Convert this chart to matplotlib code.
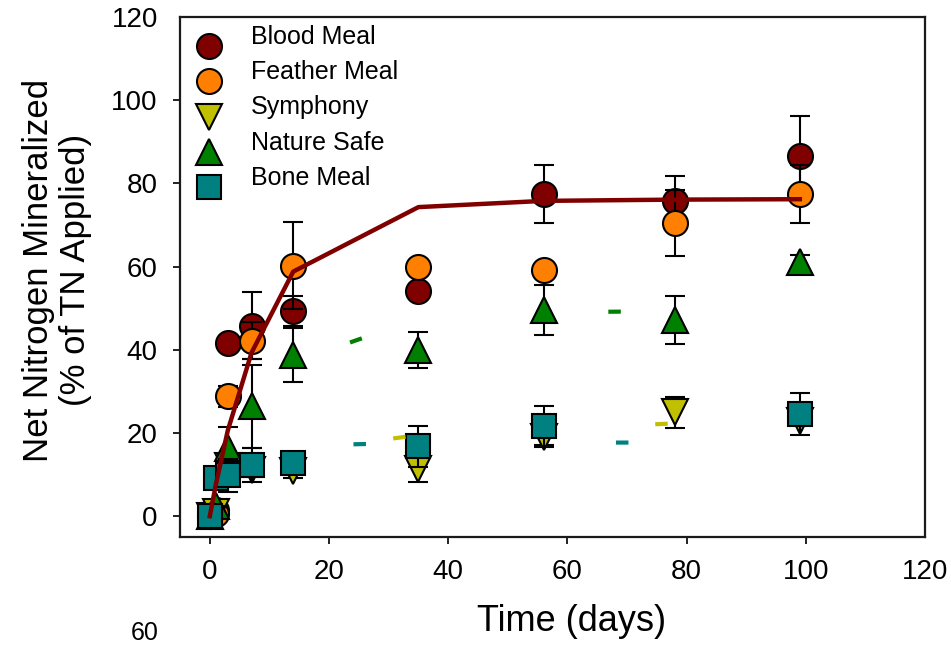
import numpy as np
import matplotlib
matplotlib.use("Agg")
import matplotlib.pyplot as plt
from matplotlib.legend_handler import HandlerLine2D

plt.rcParams["font.family"] = ["Liberation Sans", "DejaVu Sans"]

# sampling days
days = [0, 1, 3, 7, 14, 35, 56, 78, 99]

# net N mineralized (% of TN applied), mean and error
blood = [0, 1.5, 41.7, 45.8, 49.4, 54.2, 77.5, 75.8, 86.6]
blood_err = [0, 0, 0, 8, 3.6, 0, 7, 6, 9.6]
feather = [0, 0.5, 28.8, 42.2, 60.2, 60.0, 59.2, 70.5, 77.5]
feather_err = [0, 0, 2.5, 4.5, 10.5, 0, 0, 8, 7]
symphony = [0, 1, 12, 11, 10.8, 11.3, 19, 25, 23]
symphony_err = [0, 0, 2, 1.5, 1.5, 3, 2, 3.7, 1]
nature = [0, 2.5, 16.5, 26.4, 38.8, 40.0, 49.6, 47.2, 61.2]
nature_err = [0, 0, 5, 10, 6.5, 4.3, 6, 5.7, 1.5]
bone = [0, 9.2, 9.8, 12.3, 12.9, 16.8, 21.6, np.nan, 24.5]
bone_err = [0, 0, 4, 4, 1, 5, 5, np.nan, 5]

# fitted curves at the sampling days
blood_fit = [0, 7.5, 20.5, 39.3, 58.8, 74.3, 75.8, 76.1, 76.2]
symphony_fit = [0, 3, 8, 12.5, 15.5, 19.5, 21, 22.3, 23.3]
nature_fit = [0, 4.5, 14, 24.5, 37, 47.5, 49, 49.3, 49.4]
bone_fit = [0, 5, 10, 14.5, 17, 17.6, 17.7, 17.7, 17.7]

labels = ["Blood Meal", "Feather Meal", "Symphony", "Nature Safe", "Bone Meal"]
colors = ["#800000", "#ff8000", "#c0c000", "#008000", "#008080"]
markers = ["o", "o", "v", "^", "s"]
sizes = [18, 18, 19, 19, 17]


class LoweredMarker(HandlerLine2D):
    # SigmaPlot puts the legend symbol a bit below the text
    def create_artists(self, legend, orig_handle, xdescent, ydescent,
                       width, height, fontsize, trans):
        return super().create_artists(legend, orig_handle, xdescent,
                                      ydescent + 16, width, height,
                                      fontsize, trans)


fig = plt.figure(figsize=(9.51, 6.46), dpi=100)
ax = fig.add_axes([180 / 951, 1 - 537 / 646, 745 / 951, 520 / 646])

series = [(blood, blood_err), (feather, feather_err), (symphony, symphony_err),
          (nature, nature_err), (bone, bone_err)]
handles = []
for i, (vals, err) in enumerate(series):
    c = ax.errorbar(days, vals, yerr=err, fmt=markers[i], ms=sizes[i],
                    mfc=colors[i], mec="black", mew=1.5, ecolor="black",
                    elinewidth=1.5, capsize=7, capthick=1.5, zorder=2 + i,
                    label=labels[i])
    handles.append(c[0])

# fit lines (drawn over the symbols)
ax.plot(days, blood_fit, color="#800000", lw=3.2, zorder=10)
for fit, col, off in [(symphony_fit, "#c0c000", 12), (nature_fit, "#008000", 6),
                      (bone_fit, "#008080", 20)]:
    ax.plot(days, fit, color=col, lw=3, linestyle=(off, (3, 60)), zorder=10)

ax.set_xlim(-5, 120)
ax.set_ylim(-5, 120)
ax.set_xticks([0, 20, 40, 60, 80, 100, 120])
ax.set_yticks([0, 20, 40, 60, 80, 100, 120])
ax.tick_params(direction="out", length=5, width=1.3, labelsize=20, pad=11,
               color="#111111")
ax.xaxis.get_major_ticks()[-1].tick1line.set_visible(False)
ax.yaxis.get_major_ticks()[-1].tick1line.set_visible(False)
for s in ax.spines.values():
    s.set_linewidth(1.6)
    s.set_color("#1a1a1a")

ax.set_xlabel("Time (days)", fontsize=26)
ax.xaxis.set_label_coords(0.526, -0.128)
ax.set_ylabel("Net Nitrogen Mineralized\n(% of TN Applied)", fontsize=25,
              linespacing=1.15)
ax.yaxis.set_label_coords(-0.118, 0.513)

ax.legend(handles, labels, loc="upper left", bbox_to_anchor=(0.0215, 0.985),
          frameon=False, fontsize=18, numpoints=1, handlelength=1.0,
          handletextpad=1.2, labelspacing=0.45, borderpad=0, borderaxespad=0,
          handler_map={h: LoweredMarker() for h in handles})

# tick label of the panel below (only its top shows in the original)
fig.text(145 / 951, 1 / 646, "60", fontsize=18, ha="center", va="bottom")

fig.savefig("out.png", dpi=100)
